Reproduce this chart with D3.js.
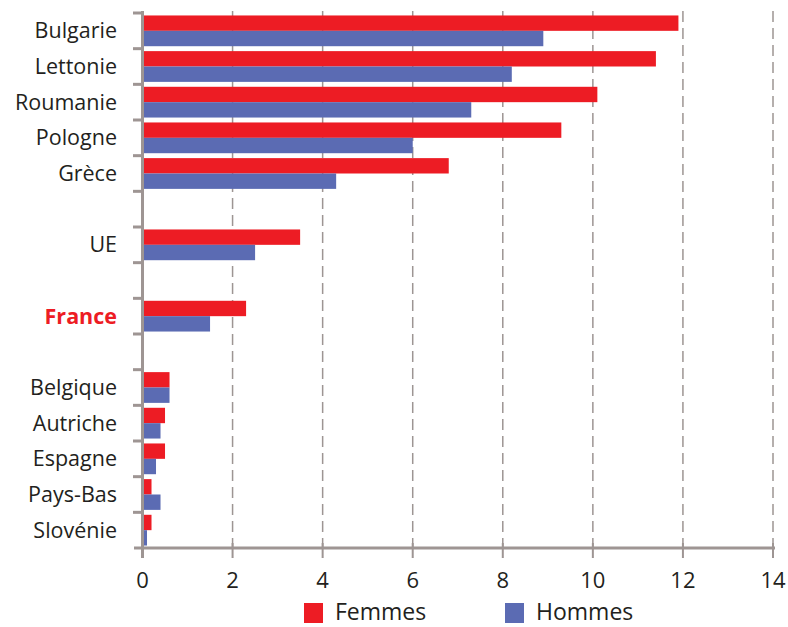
<!DOCTYPE html>
<html><head><meta charset="utf-8">
<script src="https://cdn.jsdelivr.net/npm/d3@7"></script>
<style>body{margin:0;background:#fff}svg{display:block}</style>
</head><body><svg id="c" width="788" height="627"></svg>
<script>
const categories = ["Bulgarie","Lettonie","Roumanie","Pologne","Grèce","","UE","","France","","Belgique","Autriche","Espagne","Pays-Bas","Slovénie"];
const femmes = [11.9,11.4,10.1,9.3,6.8,null,3.5,null,2.3,null,0.6,0.5,0.5,0.2,0.2];
const hommes = [8.9,8.2,7.3,6.0,4.3,null,2.5,null,1.5,null,0.6,0.4,0.3,0.4,0.1];
const xTicks = [0,2,4,6,8,10,12,14];
const seriesNames = ["Femmes","Hommes"];
const colors = ["#ed1c24","#5b6bb3"];
const axisColor = "#9e9593";
const font = "'Open Sans', sans-serif";

const svg = d3.select("#c");
const pLeft = 142.5, pRight = 773, pTop = 13, pBottom = 548;
const x = d3.scaleLinear().domain([0,14]).range([pLeft,pRight]);
const ids = categories.map((c,i)=>i);
const y = d3.scaleBand().domain(ids).range([pTop,pBottom]).paddingInner(0).paddingOuter(0);
const inner = d3.scaleBand().domain([0,1]).range([0,y.bandwidth()]).paddingOuter(0.16).paddingInner(0);

// grid lines
svg.append("g").selectAll("line").data(xTicks.filter(d=>d>0)).join("line")
  .attr("x1",d=>x(d)).attr("x2",d=>x(d)).attr("y1",pTop-2).attr("y2",pBottom)
  .attr("stroke","#9d9593").attr("stroke-width",1.5).attr("stroke-dasharray","11,6");

// bars
const series = [femmes,hommes];
series.forEach((vals,si)=>{
  svg.append("g").selectAll("rect").data(vals.map((v,i)=>({v,i})).filter(d=>d.v!=null)).join("rect")
    .attr("x",x(0)).attr("y",d=>y(d.i)+inner(si))
    .attr("width",d=>x(d.v)-x(0)).attr("height",inner.bandwidth())
    .attr("fill",colors[si]);
});

// x axis
const xa = svg.append("g").attr("transform",`translate(0,${pBottom})`);
xa.append("line").attr("x1",134).attr("x2",x(14)+2).attr("stroke",axisColor).attr("stroke-width",3);
xa.selectAll("line.t").data(xTicks).join("line").attr("class","t")
  .attr("x1",d=>x(d)).attr("x2",d=>x(d)).attr("y1",-5).attr("y2",10)
  .attr("stroke",axisColor).attr("stroke-width",2);
xa.selectAll("text").data(xTicks).join("text")
  .attr("x",d=>x(d)).attr("y",40).attr("text-anchor","middle")
  .attr("font-family",font).attr("font-size",22).attr("fill","#231f20").text(d=>d);

// y axis
const ya = svg.append("g");
ya.append("line").attr("x1",pLeft).attr("x2",pLeft).attr("y1",pTop-2).attr("y2",pBottom+10)
  .attr("stroke",axisColor).attr("stroke-width",3);
const bounds = d3.range(categories.length).map(i=>y(i));
ya.selectAll("line.t").data(bounds).join("line").attr("class","t")
  .attr("x1",133).attr("x2",pLeft).attr("y1",d=>d).attr("y2",d=>d)
  .attr("stroke",axisColor).attr("stroke-width",3);
ya.selectAll("text").data(ids.filter(i=>categories[i]!=="")).join("text")
  .attr("x",117).attr("y",i=>y(i)+y.bandwidth()/2).attr("dy","0.35em")
  .attr("text-anchor","end").attr("font-family",font).attr("font-size",21.5)
  .attr("font-weight",i=>categories[i]==="France"?700:400)
  .attr("fill",i=>categories[i]==="France"?"#ed1c24":"#231f20")
  .text(i=>categories[i]);

// legend
const lg = svg.append("g");
const lx = [304,505];
seriesNames.forEach((n,i)=>{
  lg.append("rect").attr("x",lx[i]).attr("y",603).attr("width",19).attr("height",20).attr("fill",colors[i]);
  lg.append("text").attr("x",lx[i]+31).attr("y",620).attr("font-family",font).attr("font-size",23)
    .attr("fill","#231f20").text(n);
});
</script></body></html>
